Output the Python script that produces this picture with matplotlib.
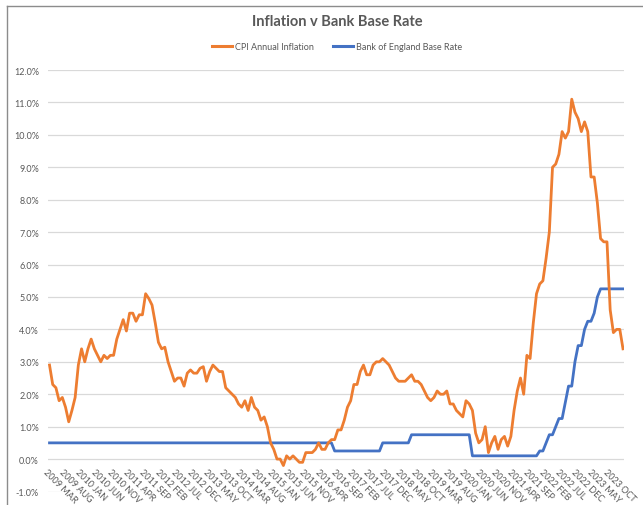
#Inflation v Bank Base Rate (monthly, Mar 2009 - Feb 2024)
import matplotlib
matplotlib.use('Agg')
import matplotlib.pyplot as plt
from matplotlib.lines import Line2D

plt.rcParams['font.family'] = ['Lato', 'DejaVu Sans']

# CPI annual inflation %, one value per month from 2009 MAR
cpi = [2.9, 2.3, 2.2, 1.8, 1.9, 1.6, 1.15, 1.5, 1.9, 2.9,                 # 2009
       3.4, 3.0, 3.4, 3.7, 3.4, 3.2, 3.0, 3.2, 3.1, 3.2, 3.2, 3.7,        # 2010
       4.0, 4.3, 3.95, 4.5, 4.5, 4.25, 4.45, 4.45, 5.1, 4.95, 4.75, 4.2,  # 2011
       3.6, 3.4, 3.45, 3.0, 2.7, 2.4, 2.5, 2.5, 2.25, 2.65, 2.75, 2.65,   # 2012
       2.65, 2.8, 2.85, 2.4, 2.7, 2.9, 2.8, 2.7, 2.7, 2.2, 2.1, 2.0,      # 2013
       1.9, 1.7, 1.6, 1.8, 1.5, 1.9, 1.6, 1.5, 1.2, 1.3, 1.0, 0.5,        # 2014
       0.3, 0.0, 0.0, -0.2, 0.1, 0.0, 0.1, 0.0, -0.1, -0.1, 0.2, 0.2,     # 2015
       0.2, 0.3, 0.5, 0.3, 0.3, 0.5, 0.6, 0.6, 0.9, 0.9, 1.2, 1.6,        # 2016
       1.8, 2.3, 2.3, 2.7, 2.9, 2.6, 2.6, 2.9, 3.0, 3.0, 3.1, 3.0,        # 2017
       2.9, 2.7, 2.5, 2.4, 2.4, 2.4, 2.5, 2.6, 2.4, 2.4, 2.3, 2.1,        # 2018
       1.9, 1.8, 1.9, 2.1, 2.0, 2.0, 2.1, 1.7, 1.7, 1.5, 1.4, 1.3,        # 2019
       1.8, 1.7, 1.5, 0.8, 0.5, 0.6, 1.0, 0.2, 0.5, 0.7, 0.3, 0.6,        # 2020
       0.7, 0.4, 0.7, 1.5, 2.1, 2.5, 2.0, 3.2, 3.1, 4.2, 5.1, 5.4,        # 2021
       5.5, 6.2, 7.0, 9.0, 9.1, 9.4, 10.1, 9.9, 10.1, 11.1, 10.7, 10.5,   # 2022
       10.1, 10.4, 10.1, 8.7, 8.7, 7.9, 6.8, 6.7, 6.7, 4.6, 3.9, 4.0,     # 2023
       4.0, 3.4]                                                          # 2024

# Bank of England base rate %, same months
base_rate = ([0.5] * 89 + [0.25] * 15 + [0.5] * 9 + [0.75] * 19 + [0.1] * 21 +
             [0.25, 0.25, 0.5, 0.75, 0.75, 1.0, 1.25, 1.25, 1.75, 2.25, 2.25,
              3.0, 3.5, 3.5, 4.0, 4.25, 4.25, 4.5, 5.0, 5.25] + [5.25] * 7)

tick_labels = ['2009 MAR', '2009 AUG', '2010 JAN', '2010 JUN', '2010 NOV', '2011 APR',
               '2011 SEP', '2012 FEB', '2012 JUL', '2012 DEC', '2013 MAY', '2013 OCT',
               '2014 MAR', '2014 AUG', '2015 JAN', '2015 JUN', '2015 NOV', '2016 APR',
               '2016 SEP', '2017 FEB', '2017 JUL', '2017 DEC', '2018 MAY', '2018 OCT',
               '2019 MAR', '2019 AUG', '2020 JAN', '2020 JUN', '2020 NOV', '2021 APR',
               '2021 SEP', '2022 FEB', '2022 JUL', '2022 DEC', '2023 MAY', '2023 OCT']
y_ticks = [-1, 0, 1, 2, 3, 4, 5, 6, 7, 8, 9, 10, 11, 12]

ORANGE = '#ED7D31'
BLUE = '#4472C4'
GREY = '#595959'

fig = plt.figure(figsize=(6.43, 5.06), dpi=100)
ax = fig.add_axes([48 / 643, 1 - 492.5 / 506, 576 / 643, 421.5 / 506])

x = list(range(len(cpi)))
ax.plot(x, base_rate, color=BLUE, lw=2.0, solid_joinstyle='round', zorder=3)
ax.plot(x, cpi, color=ORANGE, lw=2.0, solid_joinstyle='round', zorder=4)

ax.set_xlim(-0.47, len(cpi) - 1 + 0.31)
ax.set_ylim(-1, 12)
ax.set_yticks(y_ticks)
ax.set_yticklabels(['%.1f%%' % v for v in y_ticks], fontsize=6.5, color=GREY)
ax.tick_params(axis='y', length=0, pad=6.5)
ax.set_xticks([])
ax.grid(axis='y', color='#D9D9D9', lw=0.9)
ax.set_axisbelow(True)
for s in ax.spines.values():
    s.set_visible(False)

# category labels hang below the 0% line (Excel style)
for i, lab in enumerate(tick_labels):
    ax.annotate(lab, xy=(i * 5, 0), xytext=(-5, -11), textcoords='offset pixels',
                rotation=-45, rotation_mode='anchor', ha='left', va='center',
                fontsize=6.5, color=GREY, annotation_clip=False)

fig.text(337 / 643, 1 - 22 / 506, 'Inflation v Bank Base Rate', ha='center', va='center',
         fontsize=10.5, fontweight='bold', color=GREY)

handles = [Line2D([], [], color=ORANGE, lw=2.2), Line2D([], [], color=BLUE, lw=2.2)]
fig.legend(handles, ['CPI Annual Inflation', 'Bank of England Base Rate'], loc='center',
           bbox_to_anchor=(337 / 643, 1 - 48 / 506), ncol=2, frameon=False, fontsize=6.5,
           handlelength=2.2, handletextpad=0.3, columnspacing=2.2, labelcolor=GREY)

# chart border (top + left visible in the crop)
fig.add_artist(Line2D([7 / 643, 1], [1 - 7 / 506, 1 - 7 / 506], color='#8c8c8c', lw=1))
fig.add_artist(Line2D([7 / 643, 7 / 643], [0, 1 - 7 / 506], color='#8c8c8c', lw=1))

fig.savefig('out.png', dpi=100)
